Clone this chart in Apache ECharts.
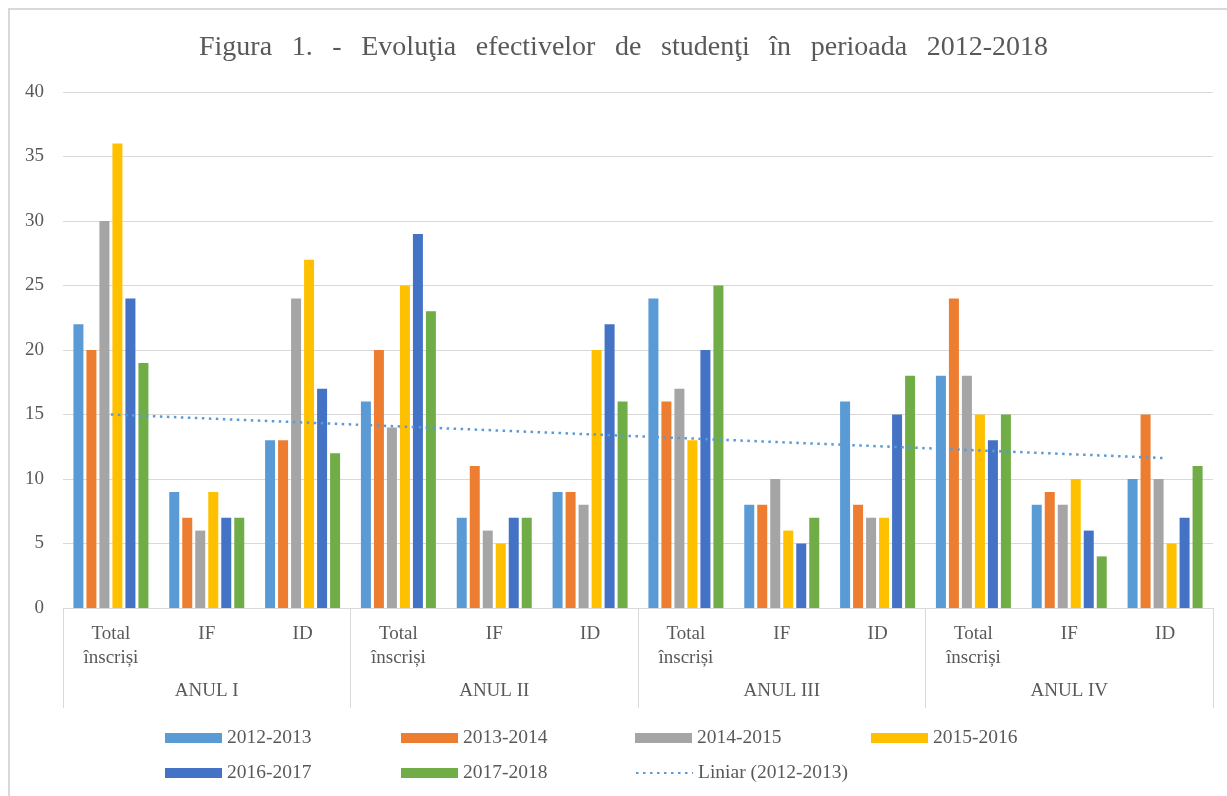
<!DOCTYPE html>
<html>
<head>
<meta charset="utf-8">
<script src="https://cdn.jsdelivr.net/npm/echarts@6/dist/echarts.min.js"></script>
<style>html,body{margin:0;padding:0;background:#fff;}#c{width:1227px;height:796px;}</style>
</head>
<body>
<div id="c"></div>
<script>
const categories = ['Total\nînscriși','IF','ID','Total\nînscriși','IF','ID','Total\nînscriși','IF','ID','Total\nînscriși','IF','ID'];
const groups = ['ANUL I','ANUL II','ANUL III','ANUL IV'];
const yTicks = [0,5,10,15,20,25,30,35,40];
const seriesNames = ['2012-2013','2013-2014','2014-2015','2015-2016','2016-2017','2017-2018'];
const s2012 = [22,9,13,16,7,9,24,8,16,18,8,10];
const s2013 = [20,7,13,20,11,9,16,8,8,24,9,15];
const s2014 = [30,6,24,14,6,8,17,10,7,18,8,10];
const s2015 = [36,9,27,25,5,20,13,6,7,15,10,5];
const s2016 = [24,7,17,29,7,22,20,5,15,13,6,7];
const s2017 = [19,7,12,23,7,16,25,7,18,15,4,11];
const trendName = 'Liniar (2012-2013)';
const trendEnds = [15.0, 11.62]; // value at first and last category
const titleWords = ['Figura','1.','-','Evoluţia','efectivelor','de','studenţi','în','perioada','2012-2018'];

const colors = ['#5B9BD5','#ED7D31','#A5A5A5','#FFC000','#4472C4','#70AD47'];
const font = 'Liberation Serif';
const txt = '#595959';
const allSeries = [s2012,s2013,s2014,s2015,s2016,s2017];

const trendData = categories.map((c,i)=> i===0 ? trendEnds[0] : (i===categories.length-1 ? trendEnds[1] : null));

const series = allSeries.map((d,i)=>({
  name: seriesNames[i], type:'bar', data:d, xAxisIndex:0,
  barWidth:10, barGap:'30%',
  itemStyle:{color:colors[i]}
}));
series.push({
  name: trendName, type:'line', data: trendData, connectNulls:true,
  symbol:'none', z:5,
  lineStyle:{color:'#5B9BD5', width:2.5, type:[2.5,4.5]},
  itemStyle:{color:'#5B9BD5'}
});

const legendPos = [
  [seriesNames[0],165,728],[seriesNames[1],401,728],[seriesNames[2],635,728],[seriesNames[3],871,728],
  [seriesNames[4],165,763],[seriesNames[5],401,763],[trendName,635,763]
];
const legends = legendPos.map(p=>({
  data:[p[0]===trendName ? {name:p[0], itemStyle:{opacity:0}} : p[0]],
  left:p[1], top:p[2], itemWidth:57, itemHeight:10, padding:0,
  icon: p[0]===trendName ? undefined : 'rect',
  textStyle:{fontFamily:font, fontSize:19.5, color:txt, lineHeight:20}
}));

const chart = echarts.init(document.getElementById('c'), null, {renderer:'canvas'});
chart.setOption({
  animation:false,
  backgroundColor:'#fff',
  title:{text:titleWords.join('\u2002\u2009'), left:199, top:34, padding:0,
    textStyle:{fontFamily:font, fontSize:28, fontWeight:'normal', color:txt}},
  graphic:[{type:'rect', shape:{x:9,y:9,width:1240,height:810}, style:{fill:'none', stroke:'#d9d9d9', lineWidth:2}, silent:true}],
  legend: legends,
  grid:{left:63, right:14, top:92, bottom:188},
  xAxis:[
    {type:'category', data:categories, position:'bottom',
      axisLine:{show:true, lineStyle:{color:'#d9d9d9', width:1}},
      axisTick:{show:false},
      axisLabel:{interval:0, margin:14, fontFamily:font, fontSize:19, color:txt, lineHeight:24}},
    {type:'category', data:groups, position:'bottom', offset:0,
      axisLine:{show:false},
      axisTick:{show:true, interval:0, length:100, lineStyle:{color:'#d9d9d9', width:1}},
      axisLabel:{interval:0, margin:74, fontFamily:font, fontSize:19, color:txt}}
  ],
  yAxis:{type:'value', min:yTicks[0], max:yTicks[yTicks.length-1], interval:5,
    axisLine:{show:false}, axisTick:{show:false},
    axisLabel:{margin:19, fontFamily:font, fontSize:19, color:txt},
    splitLine:{lineStyle:{color:'#d9d9d9', width:1}}},
  series: series
});
</script>
</body>
</html>
